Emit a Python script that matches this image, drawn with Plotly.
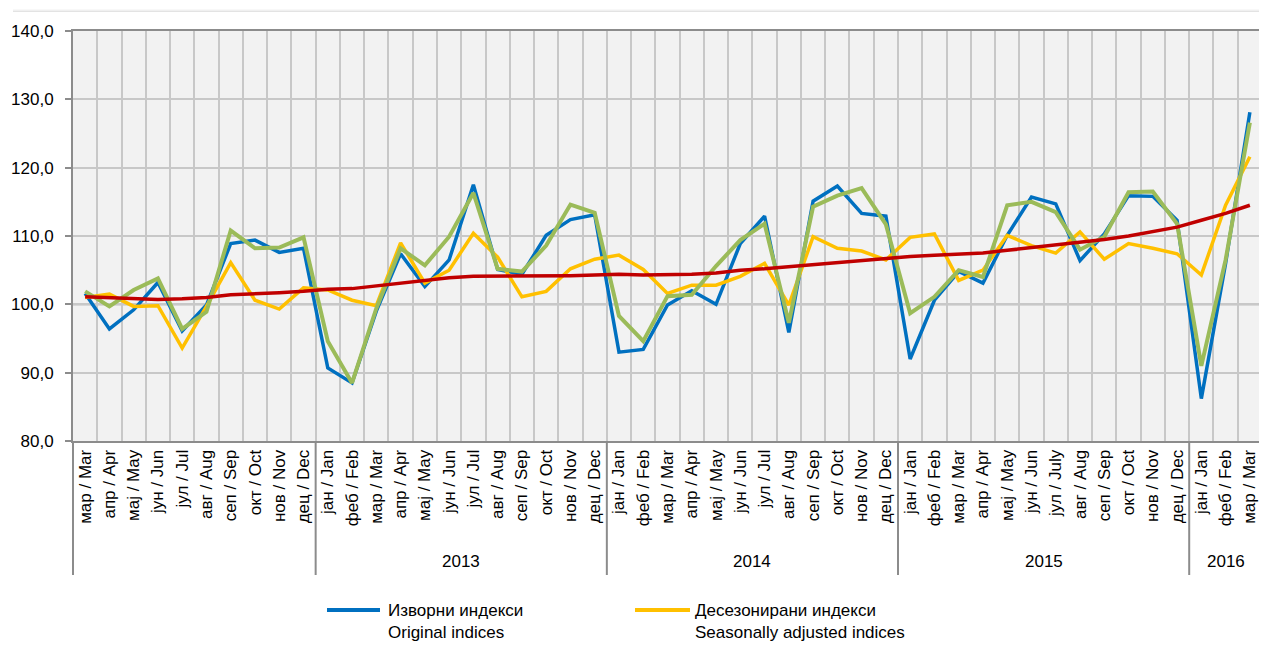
import plotly.graph_objects as go

# ---------------- data ----------------
month_labels = [
    "мар / Mar", "апр / Apr", "мај / May", "јун / Jun", "јул / Jul", "авг / Aug",
    "сеп / Sep", "окт / Oct", "нов / Nov", "дец / Dec",
    "јан / Jan", "феб / Feb", "мар / Mar", "апр / Apr", "мај / May", "јун / Jun",
    "јул / Jul", "авг / Aug", "сеп / Sep", "окт / Oct", "нов / Nov", "дец / Dec",
    "јан / Jan", "феб / Feb", "мар / Mar", "апр / Apr", "мај / May", "јун / Jun",
    "јул / Jul", "авг / Aug", "сеп / Sep", "окт / Oct", "нов / Nov", "дец / Dec",
    "јан / Jan", "феб / Feb", "мар / Mar", "апр / Apr", "мај / May", "јун / Jun",
    "јул / July", "авг / Aug", "сеп / Sep", "окт / Oct", "нов / Nov", "дец / Dec",
    "јан / Jan", "феб / Feb", "мар / Mar",
]
year_labels = ["", "2013", "2014", "2015", "2016"]
year_counts = [10, 12, 12, 12, 3]

original = [
    101.6, 96.4, 99.2, 103.2, 96.1, 99.9, 108.9, 109.4, 107.6, 108.2,
    90.7, 88.5, 99.0, 107.4, 102.6, 106.5, 117.5, 105.1, 104.4, 110.1, 112.4, 113.1,
    93.0, 93.4, 99.9, 102.0, 100.0, 108.9, 112.9, 95.9, 115.1, 117.3, 113.3, 112.9,
    92.0, 100.6, 104.8, 103.1, 110.1, 115.7, 114.7, 106.4, 110.3, 115.9, 115.8, 112.3,
    86.2, 106.0, 128.1,
]
seas_adj = [
    101.0, 101.5, 99.7, 99.8, 93.6, 99.7, 106.1, 100.6, 99.3, 102.4,
    102.1, 100.6, 99.8, 109.0, 103.1, 105.0, 110.4, 106.9, 101.1, 101.9, 105.2, 106.6,
    107.2, 105.1, 101.6, 102.8, 102.8, 104.1, 106.0, 99.9, 109.9, 108.2, 107.8, 106.5,
    109.8, 110.3, 103.5, 105.0, 110.1, 108.6, 107.5, 110.6, 106.6, 108.9, 108.2, 107.4,
    104.3, 114.5, 121.6,
]
calendar_adj = [
    101.9, 99.7, 102.1, 103.8, 96.4, 98.9, 110.8, 108.2, 108.3, 109.8,
    94.6, 88.5, 99.4, 108.2, 105.7, 109.9, 116.3, 105.2, 104.8, 108.6, 114.6, 113.4,
    98.3, 94.6, 101.2, 101.4, 105.6, 109.4, 111.8, 97.3, 114.3, 115.9, 117.0, 111.7,
    98.7, 101.1, 105.0, 104.0, 114.5, 115.0, 113.5, 108.0, 109.9, 116.4, 116.5, 111.8,
    91.0, 106.5, 126.6,
]
trend = [
    101.1, 101.0, 100.8, 100.7, 100.8, 101.0, 101.4, 101.5, 101.7, 101.9,
    102.2, 102.3, 102.7, 103.1, 103.6, 103.9, 104.1, 104.1, 104.1, 104.1, 104.2, 104.3,
    104.4, 104.3, 104.3, 104.4, 104.6, 105.0, 105.2, 105.5, 105.9, 106.2, 106.5, 106.7,
    107.0, 107.2, 107.3, 107.5, 107.9, 108.3, 108.6, 109.0, 109.5, 110.0, 110.6, 111.3,
    112.3, 113.3, 114.5,
]
legend_labels = [
    "Изворни индекси<br>Original indices",
    "Десезонирани индекси<br>Seasonally adjusted indices",
]

# ---------------- layout constants ----------------
OFF = 8                      # page body margin
W, H = 1267 - OFF, 646 - OFF
L, R, T, B = 73 - OFF, 5, 31 - OFF, 205
PW, PH = W - L - R, H - T - B
FONT = "Liberation Sans, Arial, sans-serif"

def px_x(px):
    return (px - OFF - L) / PW

def px_y(py):
    return (H - B - (py - OFF)) / PH

BLUE, YELLOW, GREEN, RED = "#0070C0", "#FFC000", "#9BBB59", "#C00000"
x = list(range(len(month_labels)))

fig = go.Figure()
for vals, col, w in [(original, BLUE, 3.5), (seas_adj, YELLOW, 3.5),
                     (calendar_adj, GREEN, 4), (trend, RED, 3.5)]:
    fig.add_trace(go.Scatter(x=x, y=vals, mode="lines",
                             line=dict(color=col, width=w),
                             showlegend=False, hoverinfo="skip"))

shapes = []
# darker 100 line
shapes.append(dict(type="line", xref="x domain", yref="y", x0=0, x1=1, y0=100, y1=100,
                   line=dict(color="#8C8C8C", width=2), layer="below"))
# year dividers extending below the axis
bounds = []
acc = 0
for c in year_counts:
    acc += c
    bounds.append(acc)
y_div_bottom = px_y(575)
shapes.append(dict(type="line", xref="x domain", yref="paper", x0=0, x1=0,
                   y0=y_div_bottom, y1=0, line=dict(color="#8C8C8C", width=2)))
shapes.append(dict(type="line", xref="x domain", yref="paper", x0=1, x1=1,
                   y0=y_div_bottom, y1=0, line=dict(color="#8C8C8C", width=2)))
for b in bounds[:-1]:
    shapes.append(dict(type="line", xref="x", yref="paper", x0=b - 0.5, x1=b - 0.5,
                       y0=y_div_bottom, y1=0, line=dict(color="#8C8C8C", width=2)))
# top shadow band
shade = ["#fbfbfb", "#f3f3f3", "#ebebeb", "#e1e1e1", "#d6d6d6"]
for k, c in enumerate(shade):
    shapes.append(dict(type="rect", xref="paper", yref="paper",
                       x0=px_x(13), x1=px_x(1267), y0=px_y(9 + 0.6 * (k + 1)), y1=px_y(9 + 0.6 * k),
                       fillcolor=c, line=dict(width=0), layer="below"))

annotations = []
# year labels
start = 0
for lab, c in zip(year_labels, year_counts):
    if lab:
        annotations.append(dict(text=lab, x=start + (c - 1) / 2, xref="x", y=px_y(561), yref="paper",
                                showarrow=False, font=dict(family=FONT, size=17, color="#000000"),
                                xanchor="center", yanchor="middle"))
    start += c

# manual legend
leg = [(legend_labels[0], BLUE, 327, 380, 386), (legend_labels[1], YELLOW, 635, 690, 693)]
for txt, col, lx0, lx1, tx in leg:
    shapes.append(dict(type="line", xref="paper", yref="paper", x0=px_x(lx0), x1=px_x(lx1),
                       y0=px_y(610), y1=px_y(610), line=dict(color=col, width=4)))
    annotations.append(dict(text=txt, x=px_x(tx), y=px_y(599), xref="paper", yref="paper",
                            showarrow=False, align="left", xanchor="left", yanchor="top",
                            font=dict(family=FONT, size=17, color="#000000")))

fig.update_layout(
    width=W, height=H,
    margin=dict(l=L, r=R, t=T, b=B, autoexpand=False),
    paper_bgcolor="#FFFFFF", plot_bgcolor="#F2F2F2",
    separators=", ",
    showlegend=False,
    shapes=shapes, annotations=annotations,
    font=dict(family=FONT, color="#000000"),
)
fig.update_xaxes(
    range=[-0.5, len(month_labels) - 0.5],
    tickmode="array", tickvals=x, ticktext=month_labels, tickangle=-90,
    tickfont=dict(family=FONT, size=17, color="#000000"),
    showgrid=False, ticks="", zeroline=False,
    showline=True, linecolor="#8C8C8C", linewidth=2, mirror=True,
    minor=dict(tick0=0.5, dtick=1, showgrid=True, gridcolor="#C8C8C8", gridwidth=1.5),
)
fig.update_yaxes(
    range=[80, 140], dtick=10, tick0=80, tickformat=".1f",
    tickfont=dict(family=FONT, size=17, color="#000000"),
    showgrid=True, gridcolor="#C8C8C8", gridwidth=1.5, zeroline=False,
    ticks="outside", ticklen=6, tickcolor="#8C8C8C", tickwidth=1.5,
    showline=True, linecolor="#8C8C8C", linewidth=2, mirror=True,
    ticklabelstandoff=8,
)

fig.write_html("out.html")
